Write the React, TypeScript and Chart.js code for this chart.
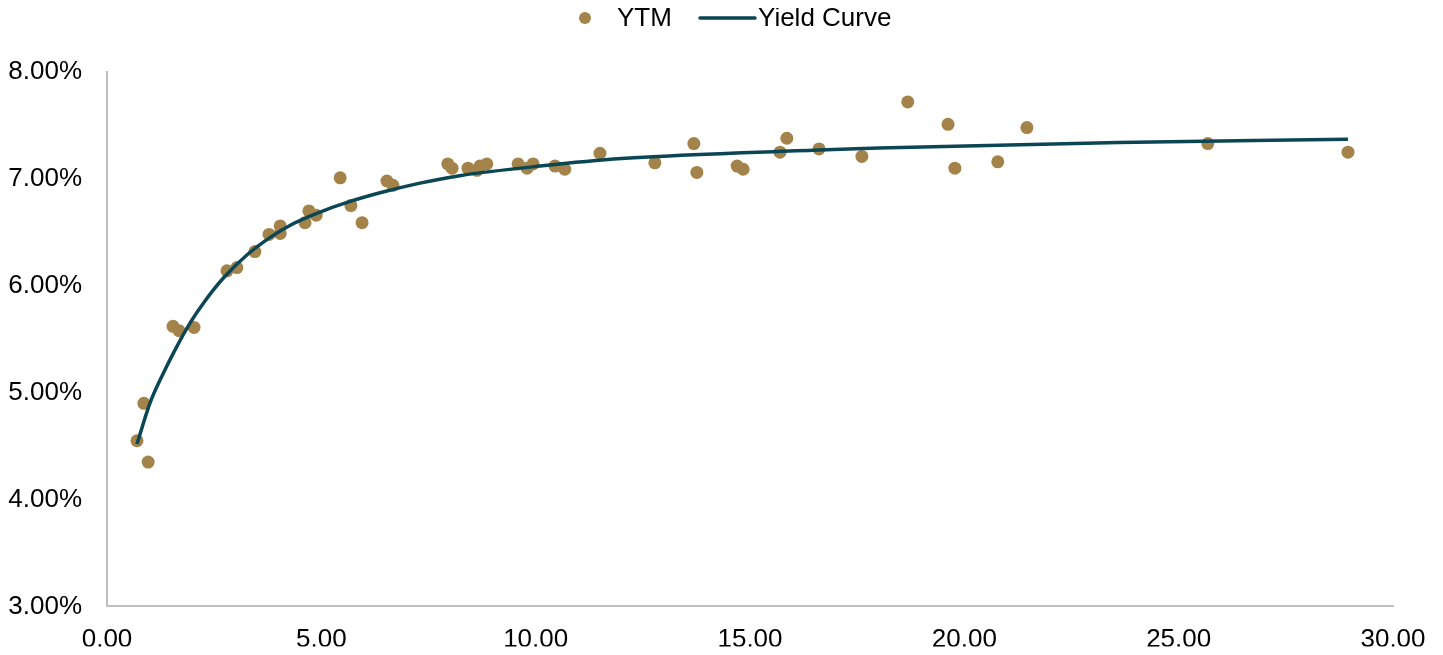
import React, { useEffect, useRef } from "react";
import { Chart, registerables } from "chart.js";

Chart.register(...registerables);

const ytmMaturity = [
  0.70, 0.86, 0.96, 1.54, 1.68, 2.03, 2.80, 3.03, 3.45, 3.78, 4.04, 4.04,
  4.62, 4.71, 4.88, 5.44, 5.69, 5.95, 6.53, 6.67, 7.95, 8.05, 8.42, 8.63,
  8.70, 8.86, 9.59, 9.80, 9.94, 10.45, 10.68, 11.50, 12.78, 13.69, 13.76,
  14.70, 14.84, 15.70, 15.86, 16.61, 17.61, 18.68, 19.62, 19.78, 20.78,
  21.46, 25.68, 28.95,
];
const ytmYield = [
  4.55, 4.90, 4.35, 5.62, 5.58, 5.61, 6.14, 6.17, 6.32, 6.48, 6.56, 6.49,
  6.59, 6.70, 6.66, 7.01, 6.75, 6.59, 6.98, 6.94, 7.14, 7.10, 7.10, 7.08,
  7.12, 7.14, 7.14, 7.10, 7.14, 7.12, 7.09, 7.24, 7.15, 7.33, 7.06,
  7.12, 7.09, 7.25, 7.38, 7.28, 7.21, 7.72, 7.51, 7.10, 7.16,
  7.48, 7.33, 7.25,
];

const curveMaturity = [
  0.70, 1.00, 1.30, 1.60, 1.95, 2.29, 2.71, 3.27, 3.80, 4.34, 4.97, 5.60,
  6.37, 7.30, 8.23, 10.10, 12.00, 16.60, 18.00, 23.60, 28.95,
];
const curveYield = [
  4.52, 4.90, 5.17, 5.41, 5.66, 5.86, 6.07, 6.29, 6.45, 6.58, 6.69, 6.78,
  6.87, 6.96, 7.03, 7.12, 7.19, 7.27, 7.29, 7.34, 7.37,
];

const xTicks = [0, 5, 10, 15, 20, 25, 30];
const yTicks = [3, 4, 5, 6, 7, 8];

const seriesNames = ["YTM", "Yield Curve"];
const POINT_COLOR = "#A4834A";
const LINE_COLOR = "#0B4655";
const FONT = "'Liberation Sans', Arial, sans-serif";

const legendPlugin = {
  id: "customLegend",
  afterDraw(chart: any) {
    const ctx = chart.ctx;
    ctx.save();
    const y = 10;
    ctx.font = `26px ${FONT}`;
    ctx.textBaseline = "middle";
    ctx.textAlign = "left";
    ctx.fillStyle = POINT_COLOR;
    ctx.beginPath();
    ctx.arc(577, y, 6, 0, Math.PI * 2);
    ctx.fill();
    ctx.fillStyle = "#000";
    ctx.fillText(seriesNames[0], 609, y + 1);
    ctx.strokeStyle = LINE_COLOR;
    ctx.lineWidth = 3.5;
    ctx.lineCap = "round";
    ctx.beginPath();
    ctx.moveTo(692, y);
    ctx.lineTo(747, y);
    ctx.stroke();
    ctx.fillStyle = "#000";
    ctx.fillText(seriesNames[1], 750, y + 1);
    ctx.restore();
  },
};

export default function App() {
  const ref = useRef<HTMLCanvasElement>(null);

  useEffect(() => {
    if (!ref.current) return;
    const chart = new Chart(ref.current, {
      type: "scatter",
      data: {
        datasets: [
          {
            label: seriesNames[1],
            data: curveMaturity.map((x, i) => ({ x, y: curveYield[i] })),
            showLine: true,
            borderColor: LINE_COLOR,
            backgroundColor: LINE_COLOR,
            borderWidth: 3.5,
            pointRadius: 0,
            cubicInterpolationMode: "monotone",
            order: 1,
          } as any,
          {
            label: seriesNames[0],
            data: ytmMaturity.map((x, i) => ({ x, y: ytmYield[i] })),
            showLine: false,
            backgroundColor: POINT_COLOR,
            borderColor: POINT_COLOR,
            pointRadius: 6.5,
            pointBorderWidth: 0,
            order: 2,
          },
        ],
      },
      options: {
        animation: false,
        responsive: true,
        maintainAspectRatio: false,
        layout: { padding: { top: 64, right: 42, left: 0, bottom: 0 } },
        plugins: {
          legend: { display: false },
          tooltip: { enabled: false },
        },
        scales: {
          x: {
            type: "linear",
            min: 0,
            max: 30,
            afterBuildTicks: (s: any) => {
              s.ticks = xTicks.map((v) => ({ value: v }));
            },
            afterFit: (s: any) => {
              s.height = 40;
              s.paddingLeft = 0;
              s.paddingRight = 0;
            },
            grid: { display: false, drawTicks: false },
            border: { display: true, color: "#BFBFBF", width: 2 },
            ticks: {
              padding: 18,
              color: "#000",
              font: { family: FONT, size: 26 },
              maxRotation: 0,
              callback: (v: any) => Number(v).toFixed(2),
            },
          },
          y: {
            type: "linear",
            min: 3,
            max: 8,
            afterBuildTicks: (s: any) => {
              s.ticks = yTicks.map((v) => ({ value: v }));
            },
            afterFit: (s: any) => {
              s.width = 99;
            },
            grid: { display: false, drawTicks: false },
            border: { display: true, color: "#BFBFBF", width: 2 },
            ticks: {
              padding: 25,
              color: "#000",
              font: { family: FONT, size: 26 },
              callback: (v: any) => Number(v).toFixed(2) + "%",
            },
          },
        },
      },
      plugins: [legendPlugin],
    });
    return () => chart.destroy();
  }, []);

  return (
    <div style={{ position: "relative", width: "1427px", height: "639px" }}>
      <canvas ref={ref} />
    </div>
  );
}
